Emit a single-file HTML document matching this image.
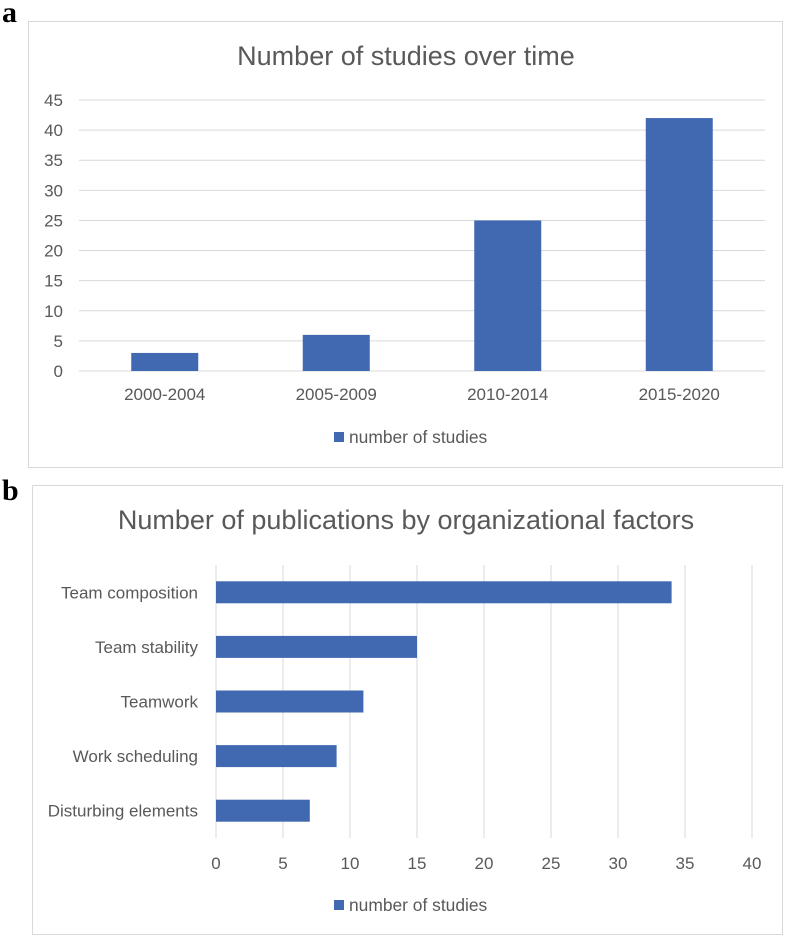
<!DOCTYPE html>
<html><head><meta charset="utf-8"><style>
body{margin:0;background:#fff;width:786px;height:937px;overflow:hidden;font-family:"Liberation Sans",sans-serif}
</style></head><body>
<svg id="s" width="786" height="937" xmlns="http://www.w3.org/2000/svg" font-family="Liberation Sans, sans-serif">
<text x="2" y="22" style="font-family:'Liberation Serif',serif;font-weight:bold" font-size="30" fill="#000">a</text>
<rect x="28.5" y="21.5" width="754" height="446" fill="#fff" stroke="#d9d9d9"/>
<text x="406" y="65" text-anchor="middle" font-size="27" fill="#595959">Number of studies over time</text>
<g id="ga"></g>
<rect x="334" y="432" width="10" height="10" fill="#4169b2"/>
<text x="349" y="443" font-size="17.4" fill="#595959">number of studies</text>
<text x="2" y="500" style="font-family:'Liberation Serif',serif;font-weight:bold" font-size="30" fill="#000">b</text>
<rect x="32.5" y="485.5" width="750" height="449" fill="#fff" stroke="#d9d9d9"/>
<text x="406" y="529" text-anchor="middle" font-size="27" fill="#595959">Number of publications by organizational factors</text>
<g id="gb"></g>
<rect x="334" y="900" width="10" height="10" fill="#4169b2"/>
<text x="349" y="911" font-size="17.4" fill="#595959">number of studies</text>
</svg>
<script>
const catsA=["2000-2004","2005-2009","2010-2014","2015-2020"];
const valsA=[3,6,25,42];
const ticksA=[0,5,10,15,20,25,30,35,40,45];
const catsB=["Team composition","Team stability","Teamwork","Work scheduling","Disturbing elements"];
const valsB=[34,15,11,9,7];
const ticksB=[0,5,10,15,20,25,30,35,40];
const NS="http://www.w3.org/2000/svg";
function mk(p,t,a){const e=document.createElementNS(NS,t);for(const k in a)e.setAttribute(k,a[k]);p.appendChild(e);return e;}
const ga=document.getElementById('ga');
const ax0=79,ax1=765,ay0=371,ay1=100;
const ya=v=>ay0-(v/45)*(ay0-ay1);
const band=(ax1-ax0)/catsA.length;
ticksA.forEach(t=>{
 const l=mk(ga,'line',{x1:ax0,x2:ax1,y1:ya(t),y2:ya(t),stroke:'#d9d9d9','stroke-width':1});
 
 
 const tx=mk(ga,'text',{x:63,y:ya(t)+6,'text-anchor':'end','font-size':17,fill:'#595959'});tx.textContent=t;
 
 
});
catsA.forEach((c,i)=>{
 const cx=ax0+band*(i+0.5);
 const r=mk(ga,'rect',{x:cx-33.5,y:ya(valsA[i]),width:67,height:ay0-ya(valsA[i]),fill:'#4169b2'});
 
 
 const tx=mk(ga,'text',{x:cx,y:400,'text-anchor':'middle','font-size':17,fill:'#595959'});tx.textContent=c;
 
 
});
const gb=document.getElementById('gb');
const bx0=216,bx1=752,by0=565,by1=838;
const xb=v=>bx0+(v/40)*(bx1-bx0);
ticksB.forEach(t=>{
 const l=mk(gb,'line',{x1:xb(t),x2:xb(t),y1:by0,y2:by1,stroke:'#d9d9d9','stroke-width':1});
 
 
 const tx=mk(gb,'text',{x:xb(t),y:869,'text-anchor':'middle','font-size':17,fill:'#595959'});tx.textContent=t;
 
 
});
const bandB=(by1-by0)/catsB.length;
catsB.forEach((c,i)=>{
 const cy=by0+bandB*(i+0.5);
 const r=mk(gb,'rect',{x:bx0,y:cy-11,width:xb(valsB[i])-bx0,height:22,fill:'#4169b2'});
 
 
 const tx=mk(gb,'text',{x:198,y:cy+6,'text-anchor':'end','font-size':17,fill:'#595959'});tx.textContent=c;
 
 
});
</script>
</body></html>
